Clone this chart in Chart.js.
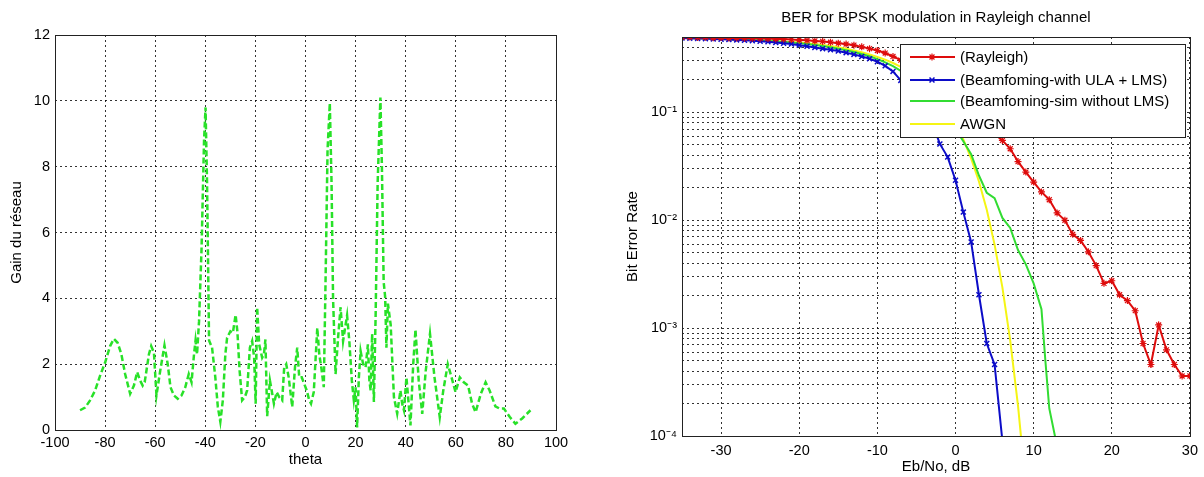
<!DOCTYPE html>
<html>
<head>
<meta charset="utf-8">
<script src="https://cdn.jsdelivr.net/npm/chart.js@4.4.0/dist/chart.umd.min.js"></script>
<style>
  html, body { margin: 0; padding: 0; background: #fff; }
  body { width: 1204px; height: 477px; position: relative; overflow: hidden; }
  .panel { position: absolute; top: 0; height: 477px; }
  #left { left: 0; width: 600px; }
  #right { left: 600px; width: 604px; }
</style>
</head>
<body>
<div class="panel" id="left"><canvas id="gainChart"></canvas></div>
<div class="panel" id="right"><canvas id="berChart"></canvas></div>
<script>
// left panel - array gain vs steering angle
const thetaDeg = [
  -90, -88, -86, -84, -82, -80, -78, -76.5, -75, -73.5, -72, -70, -68.5, -67.2, -66, -65, -64.2,
  -62.5, -61.6, -60.5, -59.5, -58, -56.3, -55, -53.9, -52.5, -51, -49.5, -48, -46.6, -45.5, -44.5,
  -43.9, -43.3, -42.5, -41.5, -40.5, -39.9, -39.3, -38.8, -38.5, -37.3, -36, -35, -34, -33, -32,
  -31.3, -30, -29, -27.9, -27.2, -26.3, -25.3, -24.2, -23.3, -22.2, -21.3, -20.5, -19.9, -19.3,
  -18.5, -17.3, -16.6, -16, -15.3, -14.2, -13.5, -12.6, -11.5, -10.5, -9.3, -8.5, -7.7, -6.7,
  -5.3, -4.2, -3.3, -2.5, -1.5, -0.5, 0.5, 1.5, 2.2, 3.3, 4.7, 5.5, 6.3, 7.3, 8, 8.8, 9.7, 10.4,
  11, 12, 13, 14, 15, 15.6, 16.6, 17.5, 18.5, 19.3, 20, 20.6, 21.3, 22, 23, 24, 24.9, 25.5, 26,
  26.6, 27.3, 28, 28.8, 29.9, 30.5, 31.2, 31.8, 32.3, 32.9, 34, 35.3, 36.6, 37.9, 38.6, 39.3,
  40.3, 41.9, 43, 43.9, 45.2, 46.6, 48, 49.7, 51.5, 53.6, 55, 56.8, 58.3, 59.9, 61.6, 63.2, 64.9,
  66.5, 67.9, 70, 71.9, 73.5, 75.8, 77.5, 79.2, 81.5, 83.8, 86.5, 89.8
];
const arrayGain = [
  0.6, 0.68, 0.9, 1.2, 1.65, 2.05, 2.55, 2.77, 2.65, 2.3, 1.7, 1.1, 1.35, 1.76, 1.5, 1.35, 1.45,
  2.3, 2.55, 2.35, 1.05, 1.8, 2.57, 2.0, 1.3, 1.05, 0.95, 1.05, 1.3, 1.7, 1.45, 2.3,
  2.72, 2.3, 3.3, 5.5, 8.8, 9.8, 7.5, 4.5, 2.72, 2.5, 1.6, 0.7, 0.25, 0.9, 2.3,
  2.8, 3.0, 2.95, 3.5, 3.0, 1.8, 0.9, 1.0, 1.2, 2.5, 2.7, 2.2, 0.8, 3.73,
  2.6, 2.2, 2.3, 2.75, 0.42, 1.5, 1.2, 0.8, 1.15, 1.0, 0.9, 1.9, 2.0, 1.6,
  0.7, 1.9, 2.5, 1.6, 1.6, 1.4, 1.2, 0.9, 0.8, 1.15, 3.1, 2.3, 1.9, 1.3, 4.5, 8.5, 9.93, 7.5,
  4.0, 1.7, 2.8, 3.73, 2.7, 3.0, 3.48, 2.7, 1.5, 0.9, 1.3, 0.08, 1.6, 2.4, 2.0, 1.9, 2.6, 1.5, 1.2,
  2.92, 0.85, 3.5, 7.5, 10.1, 8.0, 4.5, 4.04, 2.5, 3.84, 3.2, 1.0, 0.5, 1.2, 0.8, 0.6,
  1.6, 0.14, 2.0, 3.05, 1.5, 0.49, 1.8, 2.92, 1.6, 0.39, 1.2, 2.0, 1.6, 1.15, 1.6, 1.45, 1.35,
  0.8, 0.54, 1.1, 1.45, 1.2, 0.72, 0.65, 0.65, 0.4, 0.19, 0.35, 0.6
];

// right panel - BER curves
const ebnoTicks = [-30, -20, -10, 0, 10, 20, 30];
const berTickValues = [1e-4, 1e-3, 1e-2, 1e-1];
const berTickLabels = ['10⁻⁴', '10⁻³', '10⁻²', '10⁻¹'];
const seriesNames = ['(Rayleigh)', '(Beamfoming-with ULA + LMS)', '(Beamfoming-sim without LMS)', 'AWGN'];

const ebnoMarked = [];
for (let e = -35; e <= 30; e++) ebnoMarked.push(e);

// -35 .. 30 dB
const rayleighBer = [
  0.497, 0.5, 0.495, 0.497, 0.492, 0.494, 0.49, 0.49, 0.488, 0.486, 0.485, 0.483, 0.48, 0.478,
  0.474, 0.47, 0.466, 0.46, 0.455, 0.447, 0.438, 0.43, 0.42, 0.405, 0.39, 0.375, 0.355, 0.33,
  0.305, 0.28, 0.255, 0.23, 0.205, 0.18, 0.158, 0.137, 0.118, 0.1, 0.086, 0.074, 0.063, 0.055,
  0.046, 0.035, 0.028, 0.0226, 0.0183, 0.0155, 0.0117, 0.01, 0.0074, 0.0065, 0.0051, 0.0038,
  0.0026, 0.00275, 0.00204, 0.0018, 0.00145, 0.00072, 0.00046, 0.00107, 0.00063, 0.00046,
  0.00036, 0.00036
];
// -35 .. 6 dB
const lmsBer = [
  0.49, 0.488, 0.485, 0.483, 0.48, 0.477, 0.474, 0.47, 0.466, 0.462, 0.457, 0.452, 0.445, 0.437,
  0.43, 0.42, 0.41, 0.4, 0.39, 0.38, 0.37, 0.358, 0.345, 0.33, 0.315, 0.295, 0.27, 0.24, 0.198,
  0.165, 0.135, 0.107, 0.08, 0.051, 0.0385, 0.0235, 0.0119, 0.0063, 0.00204, 0.00072, 0.00046,
  0.00009
];
// -35 .. 9 dB
const awgnBer = [
  0.49, 0.489, 0.487, 0.486, 0.484, 0.482, 0.48, 0.477, 0.474, 0.471, 0.468, 0.464, 0.459, 0.455,
  0.45, 0.444, 0.437, 0.43, 0.421, 0.412, 0.401, 0.389, 0.376, 0.361, 0.345, 0.327, 0.308, 0.287,
  0.264, 0.239, 0.213, 0.186, 0.158, 0.131, 0.104, 0.0786, 0.0563, 0.0375, 0.0229, 0.0125,
  0.00595, 0.00239, 0.00077, 0.00019, 0.000034
];
const simEbno = [
  -35, -34, -33, -32, -31, -30, -29, -28, -27, -26, -25, -24, -23, -22, -21, -20, -19, -18, -17,
  -16, -15, -14, -13, -12, -11, -10, -9, -8, -7, -6, -5, -4, -3, -2, -1, 0, 1, 2, 3, 4, 5, 6, 7,
  8, 9, 10, 11, 11.5, 12, 13
];
const simBer = [
  0.49, 0.488, 0.487, 0.485, 0.483, 0.48, 0.478, 0.475, 0.472, 0.468, 0.464, 0.46, 0.455, 0.45,
  0.444, 0.437, 0.43, 0.421, 0.412, 0.401, 0.39, 0.377, 0.363, 0.348, 0.331, 0.312, 0.291, 0.268,
  0.243, 0.217, 0.19, 0.162, 0.135, 0.11, 0.088, 0.07, 0.054, 0.041, 0.026, 0.018, 0.016, 0.0105,
  0.0085, 0.0053, 0.0039, 0.0026, 0.0015, 0.0005, 0.00018, 0.00008
];

const FAMILY = '"Liberation Sans", Arial, Helvetica, sans-serif';
const TICK_FONT = { family: FAMILY, size: 14.5 };
const LABEL_FONT = { family: FAMILY, size: 15 };
const GRID = 'rgba(0,0,0,0.8)';

function toPoints(xs, ys) {
  return ys.map((y, i) => ({ x: xs[i], y: y }));
}

// solid box round the plot area, like matlab's axes
const frameBox = {
  id: 'frameBox',
  afterDatasetsDraw(chart) {
    const a = chart.chartArea;
    const ctx = chart.ctx;
    ctx.save();
    ctx.strokeStyle = '#222';
    ctx.lineWidth = 1;
    ctx.strokeRect(Math.round(a.left) + 0.5, Math.round(a.top) + 0.5,
      Math.round(a.right - a.left), Math.round(a.bottom - a.top));
    ctx.restore();
  }
};

// legend box drawn inside the plot, top right
const boxLegend = {
  id: 'boxLegend',
  afterDraw(chart) {
    const ctx = chart.ctx;
    const x0 = 300, y0 = 44, w = 285, h = 93;
    const rows = [57, 80, 101, 124];
    ctx.save();
    ctx.fillStyle = '#fff';
    ctx.fillRect(x0, y0, w, h);
    ctx.strokeStyle = '#222';
    ctx.lineWidth = 1;
    ctx.strokeRect(x0 + 0.5, y0 + 0.5, w, h);
    chart.data.datasets.forEach((ds, i) => {
      const y = rows[i];
      ctx.strokeStyle = ds.borderColor;
      ctx.lineWidth = ds.borderWidth;
      ctx.beginPath();
      ctx.moveTo(x0 + 10, y);
      ctx.lineTo(x0 + 55, y);
      ctx.stroke();
      if (ds.pointRadius > 0) {
        ctx.lineWidth = ds.pointBorderWidth;
        Chart.helpers.drawPoint(ctx, { pointStyle: ds.pointStyle, radius: ds.pointRadius, borderWidth: ds.pointBorderWidth }, x0 + 32, y);
      }
      ctx.fillStyle = '#000';
      ctx.font = LABEL_FONT.size + 'px ' + FAMILY;
      ctx.textBaseline = 'middle';
      ctx.fillText(ds.label, x0 + 60, y + 1);
    });
    ctx.restore();
  }
};

new Chart(document.getElementById('gainChart'), {
  type: 'line',
  data: {
    datasets: [{
      data: toPoints(thetaDeg, arrayGain),
      borderColor: 'rgb(40,225,40)',
      borderWidth: 2.5,
      borderDash: [6, 3],
      pointRadius: 0,
      tension: 0,
      fill: false
    }]
  },
  options: {
    responsive: true,
    maintainAspectRatio: false,
    animation: false,
    layout: { padding: { top: 35, right: 44, left: 0, bottom: 0 } },
    plugins: { legend: { display: false }, tooltip: { enabled: false } },
    scales: {
      x: {
        type: 'linear', min: -100, max: 100,
        ticks: { stepSize: 20, padding: 4, color: '#000', font: TICK_FONT, maxRotation: 0, autoSkip: false },
        grid: { color: GRID, drawTicks: false },
        border: { display: false, dash: [2, 3] },
        title: { display: true, text: 'theta', color: '#000', font: LABEL_FONT, padding: { top: 0, bottom: 8 } },
        afterFit: s => { s.height = 47; }
      },
      y: {
        min: 0, max: 12,
        ticks: { stepSize: 2, padding: 5, color: '#000', font: TICK_FONT },
        grid: { color: GRID, drawTicks: false },
        border: { display: false, dash: [2, 3] },
        title: { display: true, text: 'Gain du réseau', color: '#000', font: LABEL_FONT, padding: { top: 8, bottom: 0 } },
        afterFit: s => { s.width = 55; }
      }
    }
  },
  plugins: [frameBox]
});

// minor grid for the log axis: 1..9 x each decade, up to 0.5
const logGrid = [];
berTickValues.forEach(d => {
  for (let m = 1; m <= 9; m++) {
    const v = +(d * m).toPrecision(6);
    if (v <= 0.5) logGrid.push(v);
  }
});

new Chart(document.getElementById('berChart'), {
  type: 'line',
  data: {
    datasets: [
      {
        label: seriesNames[0],
        data: toPoints(ebnoMarked, rayleighBer),
        borderColor: 'rgb(222,12,12)', backgroundColor: 'rgba(0,0,0,0)',
        borderWidth: 2, pointStyle: 'star', pointRadius: 3.5, pointBorderWidth: 1.2, tension: 0
      },
      {
        label: seriesNames[1],
        data: toPoints(ebnoMarked, lmsBer),
        borderColor: 'rgb(12,12,200)', backgroundColor: 'rgba(0,0,0,0)',
        borderWidth: 2, pointStyle: 'crossRot', pointRadius: 3.5, pointBorderWidth: 1.5, tension: 0
      },
      {
        label: seriesNames[2],
        data: toPoints(simEbno, simBer),
        borderColor: 'rgb(50,220,50)', borderWidth: 2, pointRadius: 0, tension: 0
      },
      {
        label: seriesNames[3],
        data: toPoints(ebnoMarked, awgnBer),
        borderColor: 'rgb(245,245,20)', borderWidth: 2, pointRadius: 0, tension: 0
      }
    ]
  },
  options: {
    responsive: true,
    maintainAspectRatio: false,
    animation: false,
    layout: { padding: { top: 0, right: 11, left: 0, bottom: 0 } },
    plugins: {
      legend: { display: false },
      tooltip: { enabled: false },
      title: {
        display: true, fullSize: false,
        text: 'BER for BPSK modulation in Rayleigh channel',
        color: '#000', font: { family: FAMILY, size: 15, weight: 'normal' },
        padding: { top: 9, bottom: 10 }
      }
    },
    scales: {
      x: {
        type: 'linear', min: -35, max: 30,
        afterBuildTicks: s => { s.ticks = ebnoTicks.map(v => ({ value: v })); },
        ticks: { padding: 6, color: '#000', font: TICK_FONT, maxRotation: 0, autoSkip: false },
        grid: { color: GRID, drawTicks: false },
        border: { display: false, dash: [2, 3] },
        title: { display: true, text: 'Eb/No, dB', color: '#000', font: LABEL_FONT, padding: { top: 0, bottom: 1 } },
        afterFit: s => { s.height = 41; }
      },
      y: {
        type: 'logarithmic', min: 1e-4, max: 0.5,
        afterBuildTicks: s => { s.ticks = logGrid.map(v => ({ value: v })); },
        ticks: {
          padding: 5, color: '#000', font: TICK_FONT, autoSkip: false,
          callback: v => {
            const i = berTickValues.findIndex(t => Math.abs(t - v) / t < 1e-6);
            return i >= 0 ? berTickLabels[i] : '';
          }
        },
        grid: { color: GRID, drawTicks: false },
        border: { display: false, dash: [2, 3] },
        title: { display: true, text: 'Bit Error Rate', color: '#000', font: LABEL_FONT, padding: { top: 24, bottom: 0 } },
        afterFit: s => { s.width = 82; }
      }
    }
  },
  plugins: [frameBox, boxLegend]
});
</script>
</body>
</html>
